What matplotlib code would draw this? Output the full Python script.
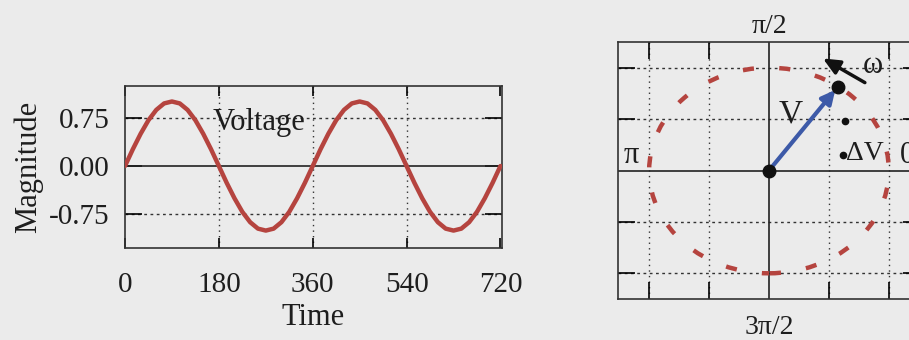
import matplotlib
matplotlib.use("Agg")
import matplotlib.pyplot as plt
from matplotlib.patches import Circle

plt.rcParams['font.family'] = ['Liberation Serif', 'DejaVu Serif']

# ---- data: left panel (sine voltage) ----
time_deg = list(range(0, 721, 15))
voltage = [0.00, 0.26, 0.50, 0.71, 0.87, 0.97, 1.00, 0.97, 0.87, 0.71, 0.50, 0.26,
           0.00, -0.26, -0.50, -0.71, -0.87, -0.97, -1.00, -0.97, -0.87, -0.71, -0.50, -0.26,
           0.00, 0.26, 0.50, 0.71, 0.87, 0.97, 1.00, 0.97, 0.87, 0.71, 0.50, 0.26,
           0.00, -0.26, -0.50, -0.71, -0.87, -0.97, -1.00, -0.97, -0.87, -0.71, -0.50, -0.26,
           0.00]
x_ticks = [0, 180, 360, 540, 720]
y_ticks = [-0.75, 0.00, 0.75]
y_ticklabels = ['-0.75', '0.00', '0.75']

# ---- data: right panel (phasor) ----
circle_radius = 1.0
phasor_grid = [-1.0, -0.5, 0.5, 1.0]
v_tip = (0.575, 0.815)
omega_tail = (0.80, 0.855)
omega_head = (0.45, 1.09)
delta_dots_x = [0.63, 0.62]
delta_dots_y = [0.485, 0.155]

bg = '#ebebeb'
red = '#b5443f'
blue = '#3d5aa8'
ink = '#1e1e1e'

fig = plt.figure(figsize=(9.09, 3.40), dpi=100, facecolor=bg)

# ---------------- left panel ----------------
ax = fig.add_axes([125/909, 1-248/340, 377/909, 162/340], facecolor=bg)
ax.plot(time_deg, voltage, color=red, lw=3.2, solid_capstyle='round', zorder=3)
ax.axhline(0, color='#222222', lw=1.2, zorder=2)
for xv in x_ticks[1:-1]:
    ax.axvline(xv, color='#333333', lw=1.0, ls=(0, (1, 3)), zorder=1)
for yv in [-0.75, 0.75]:
    ax.axhline(yv, color='#333333', lw=1.0, ls=(0, (2, 2.5)), zorder=1)
ax.set_xlim(0, 723)
ax.set_ylim(-1.27, 1.24)
ax.set_xticks(x_ticks)
ax.set_yticks(y_ticks)
ax.set_yticklabels(y_ticklabels)
ax.tick_params(axis='x', direction='in', top=True, length=7, width=1.2, pad=17, labelsize=21,
               labelcolor=ink)
ax.tick_params(axis='y', direction='in', right=True, length=12, width=1.2, pad=11, labelsize=21,
               labelcolor=ink)
ax.set_xlabel('Time', fontsize=22, labelpad=4, color=ink)
ax.set_ylabel('Magnitude', fontsize=22, labelpad=4, color=ink)
for s in ax.spines.values():
    s.set_linewidth(1.2)
    s.set_color('#333333')
ax.text(169, 0.68, 'Voltage', fontsize=22, va='center', ha='left', color=ink)

# ---------------- right panel ----------------
bx = fig.add_axes([618/909, 1-299/340, 302/909, 257/340], facecolor=bg)
bx.set_xlim(-1.26, 1.26)
bx.set_ylim(-1.25, 1.25)
bx.set_xticks(phasor_grid)
bx.set_yticks(phasor_grid)
bx.set_xticklabels([])
bx.set_yticklabels([])
bx.tick_params(axis='both', direction='in', top=True, right=True, length=12, width=1.2)
for s in bx.spines.values():
    s.set_linewidth(1.2)
    s.set_color('#333333')
for g in phasor_grid:
    bx.axvline(g, color='#333333', lw=1.0, ls=(0, (1, 3)), zorder=1)
    bx.axhline(g, color='#333333', lw=1.0, ls=(0, (2, 2.5)), zorder=1)
bx.axhline(0, color='#222222', lw=1.2, zorder=2)
bx.axvline(0, color='#222222', lw=1.2, zorder=2)

circ = Circle((0, 0), circle_radius, fill=False, edgecolor=red, lw=3.2,
              ls=(8.0, (2.5, 5.7)), zorder=3)
bx.add_patch(circ)

bx.annotate('', xy=v_tip, xytext=(0, 0),
            arrowprops=dict(arrowstyle='-|>,head_length=0.8,head_width=0.4',
                            color=blue, lw=3.0, shrinkA=0, shrinkB=3), zorder=5)
bx.plot([0, v_tip[0]], [0, v_tip[1]], 'o', color='#111111', ms=9, zorder=6)
bx.annotate('', xy=omega_head, xytext=omega_tail,
            arrowprops=dict(arrowstyle='-|>,head_length=1.0,head_width=0.45',
                            color='#111111', lw=2.5, shrinkA=0, shrinkB=0), zorder=5)
bx.plot(delta_dots_x, delta_dots_y, 'o', color='#111111', ms=4.5, zorder=6)

bx.text(0.18, 0.55, 'V', fontsize=24, ha='center', va='center', color=ink)
bx.text(0.645, 0.17, 'ΔV', fontsize=20, ha='left', va='center', color=ink)
bx.text(0.87, 1.02, 'ω', fontsize=22, ha='center', va='center', color=ink)
bx.text(-1.215, 0.15, 'π', fontsize=22, ha='left', va='center', color=ink)
bx.text(1.09, 0.15, '0', fontsize=22, ha='left', va='center', color=ink)
bx.text(0, 1.40, 'π/2', fontsize=20, ha='center', va='center', color=ink, clip_on=False)
bx.text(0, -1.53, '3π/2', fontsize=20, ha='center', va='center', color=ink, clip_on=False)

fig.savefig('out.png', dpi=100, facecolor=bg)
